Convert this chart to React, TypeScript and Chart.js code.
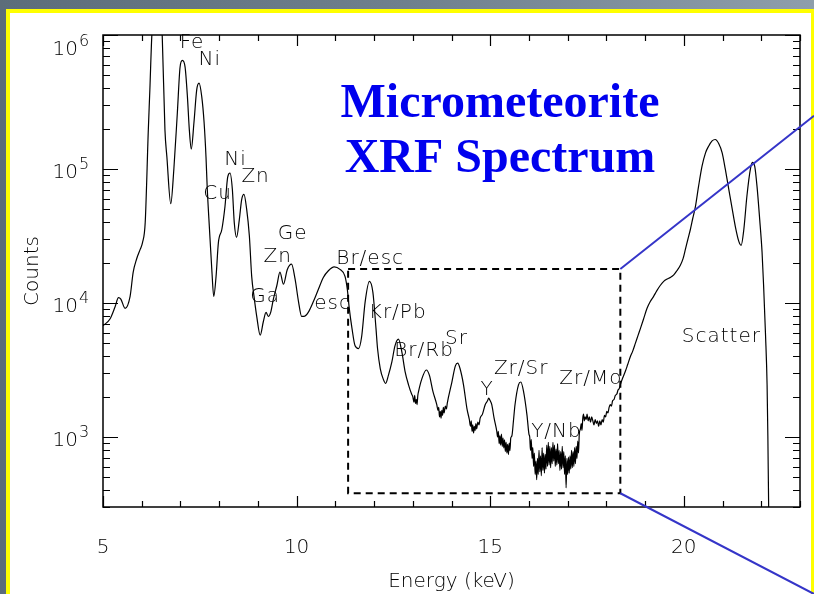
import React, { useEffect, useRef } from "react";
import { Chart, registerables } from "chart.js";

Chart.register(...registerables);

// ---------- data ----------
const energyKeV = [
  5.0, 5.18, 5.31, 5.4, 5.46, 5.57, 5.7, 5.78, 5.87, 5.96,
  6.02, 6.09, 6.17, 6.21, 6.26, 6.33, 6.4, 6.47, 6.53, 6.6,
  6.65, 6.75, 6.83, 6.92, 6.99, 7.05, 7.12, 7.18, 7.23, 7.28,
  7.35, 7.42, 7.48, 7.55, 7.61, 7.66, 7.69, 7.75, 7.81, 7.86,
  7.92, 7.98, 8.07, 8.15, 8.22, 8.28, 8.34, 8.39, 8.45, 8.52,
  8.58, 8.64, 8.71, 8.78, 8.84, 8.9, 8.97, 9.06, 9.14, 9.21,
  9.27, 9.33, 9.4, 9.49, 9.57, 9.66, 9.76, 9.87, 9.96, 10.05,
  10.13, 10.19, 10.3, 10.43, 10.56, 10.69, 10.82, 10.97, 11.12, 11.25,
  11.31, 11.36, 11.43, 11.51, 11.6, 11.68, 11.77, 11.88, 11.97, 12.05,
  12.09, 12.16, 12.24, 12.3, 12.37, 12.46, 12.54, 12.63, 12.72, 12.8,
  12.89, 12.97,
  13.0, 13.03, 13.05, 13.07, 13.09, 13.11, 13.13, 13.15, 13.23, 13.35, 13.43, 13.52, 13.62,
  13.65, 13.67, 13.69, 13.71, 13.73, 13.75, 13.77, 13.79, 13.81, 13.84, 13.87, 13.89,
  14.01, 14.1, 14.16, 14.22, 14.31, 14.4,
  14.46, 14.49, 14.51, 14.53, 14.55, 14.57, 14.59, 14.61, 14.63, 14.65, 14.68, 14.71, 14.74,
  14.8, 14.87, 14.93, 14.96, 15.0, 15.04, 15.1, 15.17,
  15.19, 15.21, 15.23, 15.25, 15.27, 15.29, 15.31, 15.33, 15.35, 15.37, 15.39, 15.41, 15.43, 15.45, 15.47, 15.49, 15.51, 15.53,
  15.56, 15.6, 15.64, 15.73, 15.79, 15.86, 15.95, 16.0,
  16.02, 16.04, 16.06, 16.08, 16.1, 16.12, 16.14, 16.16, 16.18, 16.2,
  16.22, 16.24, 16.26, 16.28, 16.3, 16.32, 16.34, 16.36, 16.38, 16.4,
  16.42, 16.44, 16.46, 16.48, 16.5, 16.52, 16.54, 16.56, 16.58, 16.6,
  16.62, 16.64, 16.66, 16.68, 16.7, 16.72, 16.74, 16.76, 16.78, 16.8,
  16.82, 16.84, 16.86, 16.88, 16.9, 16.92, 16.94, 16.96, 16.98, 17.0,
  17.02, 17.04, 17.06, 17.08, 17.1, 17.12, 17.14, 17.16, 17.18, 17.2,
  17.22, 17.24, 17.26, 17.28, 17.3,
  17.33, 17.35, 17.37, 17.39, 17.41, 17.43, 17.45, 17.48, 17.5, 17.53,
  17.56, 17.59, 17.62, 17.65, 17.68, 17.71, 17.74, 17.77, 17.8, 17.83,
  17.86, 17.89, 17.92, 17.95, 17.98, 18.01, 18.04, 18.07, 18.1, 18.13,
  18.16, 18.2, 18.23, 18.27, 18.3, 18.33, 18.36,
  18.42, 18.49, 18.55, 18.62, 18.68, 18.75, 18.82, 18.88, 18.96, 19.05,
  19.13, 19.22, 19.3, 19.39, 19.48, 19.57, 19.65, 19.74, 19.82, 19.91,
  19.98, 20.04, 20.1, 20.17, 20.23, 20.3, 20.38, 20.47, 20.56, 20.64,
  20.73, 20.81, 20.9, 20.99, 21.07, 21.16, 21.25, 21.33, 21.42, 21.48,
  21.55, 21.63, 21.72, 21.77, 21.83, 21.89, 21.96, 22.02, 22.06, 22.11,
  22.15, 22.17, 22.19, 22.22,
];

const counts = [
  6760, 7590, 9330, 10960, 10700, 9120, 11220, 16980, 21380, 25120,
  28180, 39810, 195000, 389000, 977000, 1780000, 2240000, 1780000, 977000, 195000,
  123000, 55000, 100000, 263000, 575000, 646000, 575000, 347000, 195000, 141000,
  224000, 389000, 437000, 347000, 224000, 123000, 74100, 35500, 17800, 11200,
  15800, 28200, 35500, 52500, 87100, 93300, 70800, 39800, 30900, 41700,
  58900, 64600, 50100, 31600, 15800, 11200, 7940, 5750, 7240, 8510,
  7940, 8510, 10700, 13500, 17000, 13800, 17800, 19500, 15100, 10200,
  7940, 7940, 8510, 10200, 12600, 15500, 17400, 18600, 17800, 15800,
  12600, 9120, 6460, 4790, 4570, 5620, 10200, 14500, 12000, 6460,
  4570, 3240, 2690, 2510, 2880, 3630, 4790, 5370, 4270, 3090,
  2450, 2090,
  2000, 1820, 2040, 1780, 1910, 1740, 2040, 2190, 2690, 3160, 2880, 2190, 1740,
  1580, 1660, 1410, 1550, 1380, 1580, 1450, 1660, 1510, 1700, 1620, 1780,
  2570, 3390, 3550, 3240, 2450, 1620,
  1350, 1200, 1320, 1100, 1230, 1070, 1200, 1120, 1260, 1150, 1290, 1230, 1380,
  1480, 1740, 1860, 1950, 1860, 1740, 1380, 1100,
  1000, 1100, 890, 1020, 870, 1050, 850, 980, 830, 950, 780, 910, 760, 880, 740, 900, 790, 980,
  1020, 1320, 1740, 2450, 2570, 2190, 1450, 1050,
  1000, 794, 955, 692, 832, 603, 759, 525, 661, 479,
  692, 525, 794, 550, 724, 513, 832, 562, 759, 537,
  741, 575, 871, 603, 912, 617, 851, 589, 832, 631,
  912, 661, 871, 603, 813, 617, 891, 631, 794, 562,
  776, 575, 851, 589, 776, 525, 724, 417, 692, 525,
  708, 537, 724, 575, 794, 589, 776, 603, 832, 631,
  851, 692, 933, 759, 1050,
  1150, 1260, 1120, 1380, 1480, 1320, 1410, 1350, 1480, 1320,
  1410, 1290, 1410, 1320, 1230, 1350, 1260, 1320, 1200, 1320,
  1230, 1350, 1290, 1450, 1410, 1550, 1510, 1660, 1740, 1700,
  1860, 1910, 2040, 2090, 2240, 2290, 2450,
  2750, 3090, 3470, 3980, 4370, 5010, 5750, 6460, 7590, 9120,
  10200, 11200, 12300, 13500, 14500, 15100, 15500, 16200, 17400, 19100,
  21400, 25100, 29500, 35500, 42700, 52500, 74100, 105000, 132000, 148000,
  162000, 166000, 155000, 132000, 100000, 70800, 50100, 37200, 28800, 26900,
  35500, 63100, 100000, 112000, 105000, 74100, 41700, 24000, 13500, 5750,
  2450, 1020, 309, 100,
];

const peakLabels = ["Fe", "Ni", "Ni", "Zn", "Cu", "Ga", "Zn", "Ge", "esc", "Br/esc", "Kr/Pb", "Br/Rb", "Sr", "Y", "Zr/Sr", "Zr/Mo", "Y/Nb", "Scatter"];
const peakLabelEnergy = [7.3, 7.76, 8.42, 8.94, 7.96, 9.19, 9.51, 9.9, 10.93, 11.9, 12.61, 13.29, 14.13, 14.92, 15.8, 17.6, 16.71, 20.97];
const peakLabelCounts = [800000, 598000, 108000, 79400, 59300, 10200, 20200, 29900, 9020, 19500, 7730, 4040, 4950, 2040, 2960, 2500, 991, 5130];

const xMin = 5;
const xMax = 23;
const yMin = 300;
const yMax = 1000000;
const xMajorTicks = [5, 10, 15, 20];
const yDecadeExponents = [3, 4, 5, 6];

const zoomBoxEnergy = [11.33, 18.36];
const zoomBoxCounts = [380, 17900];

const titleLines = ["Micrometeorite", "XRF Spectrum"];
const xAxisTitle = "Energy (keV)";
const yAxisTitle = "Counts";

// ---------- component ----------
const W = 814;
const H = 594;

export default function App() {
  const canvasRef = useRef<HTMLCanvasElement | null>(null);

  useEffect(() => {
    const canvas = canvasRef.current;
    if (!canvas) return;

    const decorPlugin = {
      id: "decor",
      afterDraw(chart: any) {
        const ctx = chart.ctx as CanvasRenderingContext2D;
        const xs = chart.scales.x;
        const ys = chart.scales.y;
        const { left, right, top, bottom } = chart.chartArea;
        const labelFont = "200 20px 'DejaVu Sans'";
        ctx.save();

        // frame
        ctx.strokeStyle = "#000";
        ctx.lineWidth = 1.5;
        ctx.strokeRect(left, top, right - left, bottom - top);

        // x ticks (inward, top and bottom)
        ctx.lineWidth = 1.2;
        for (let e = xMin; e <= xMax; e++) {
          const px = Math.round(xs.getPixelForValue(e)) + 0.5;
          const len = xMajorTicks.includes(e) ? 11 : 6;
          ctx.beginPath();
          ctx.moveTo(px, bottom);
          ctx.lineTo(px, bottom - len);
          ctx.moveTo(px, top);
          ctx.lineTo(px, top + len);
          ctx.stroke();
        }
        // y ticks (log minor)
        for (let d = 2; d <= 6; d++) {
          for (let m = 1; m <= 9; m++) {
            const v = m * Math.pow(10, d);
            if (v < yMin || v > yMax) continue;
            const py = Math.round(ys.getPixelForValue(v)) + 0.5;
            const len = m === 1 ? 15 : 7;
            ctx.beginPath();
            ctx.moveTo(left, py);
            ctx.lineTo(left + len, py);
            ctx.moveTo(right, py);
            ctx.lineTo(right - len, py);
            ctx.stroke();
          }
        }

        // tick labels
        ctx.fillStyle = "#000";
        ctx.textAlign = "center";
        ctx.textBaseline = "alphabetic";
        ctx.font = labelFont;
        for (const e of xMajorTicks) {
          ctx.fillText(String(e), xs.getPixelForValue(e), bottom + 46);
        }
        for (const ex of yDecadeExponents) {
          const py = ys.getPixelForValue(Math.pow(10, ex));
          const base = Math.max(py + 9, top + 20);
          ctx.font = labelFont;
          ctx.textAlign = "right";
          ctx.fillText("10", left - 25, base);
          ctx.font = "200 16px 'DejaVu Sans'";
          ctx.textAlign = "left";
          ctx.fillText(String(ex), left - 24, base - 9);
        }

        // axis titles
        ctx.font = labelFont;
        ctx.textAlign = "center";
        ctx.fillText(xAxisTitle, (left + right) / 2, bottom + 80);
        ctx.save();
        ctx.translate(38, (top + bottom) / 2);
        ctx.rotate(-Math.PI / 2);
        ctx.fillText(yAxisTitle, 0, 0);
        ctx.restore();

        // peak labels
        ctx.font = labelFont;
        (ctx as any).letterSpacing = "1px";
        ctx.textAlign = "center";
        for (let i = 0; i < peakLabels.length; i++) {
          ctx.fillText(peakLabels[i], xs.getPixelForValue(peakLabelEnergy[i]), ys.getPixelForValue(peakLabelCounts[i]));
        }
        (ctx as any).letterSpacing = "0px";

        // dashed zoom box
        const bx0 = xs.getPixelForValue(zoomBoxEnergy[0]);
        const bx1 = xs.getPixelForValue(zoomBoxEnergy[1]);
        const by0 = ys.getPixelForValue(zoomBoxCounts[1]);
        const by1 = ys.getPixelForValue(zoomBoxCounts[0]);
        ctx.setLineDash([7, 5]);
        ctx.lineWidth = 2;
        ctx.strokeStyle = "#000";
        ctx.strokeRect(bx0, by0, bx1 - bx0, by1 - by0);
        ctx.setLineDash([]);

        // callout lines
        ctx.strokeStyle = "#3535c8";
        ctx.lineWidth = 2;
        ctx.beginPath();
        ctx.moveTo(bx1, by0);
        ctx.lineTo(W, H * 0.195);
        ctx.moveTo(bx1, by1);
        ctx.lineTo(W, H);
        ctx.stroke();

        // title
        ctx.fillStyle = "#0000ee";
        ctx.font = "bold 48px 'Liberation Serif'";
        ctx.textAlign = "center";
        ctx.fillText(titleLines[0], 500, 117);
        ctx.fillText(titleLines[1], 500, 172);

        ctx.restore();
      },
    };

    const chart = new Chart(canvas, {
      type: "line",
      data: {
        datasets: [
          {
            data: energyKeV.map((e, i) => ({ x: e, y: counts[i] })),
            borderColor: "#000",
            borderWidth: 1.2,
            pointRadius: 0,
            cubicInterpolationMode: "monotone",
            fill: false,
          },
        ],
      },
      options: {
        responsive: false,
        animation: false,
        devicePixelRatio: 1,
        layout: { padding: { left: 103, right: 14, top: 35, bottom: 87 } },
        plugins: { legend: { display: false }, tooltip: { enabled: false }, title: { display: false } },
        scales: {
          x: { type: "linear", min: xMin, max: xMax, display: false },
          y: { type: "logarithmic", min: yMin, max: yMax, display: false },
        },
      },
      plugins: [decorPlugin],
    } as any);

    return () => chart.destroy();
  }, []);

  return (
    <div
      style={{
        position: "fixed",
        left: 0,
        top: 0,
        width: W,
        height: H,
        overflow: "hidden",
        background: "linear-gradient(to right, #5c6d7a, #6f808d 50%, #8e9eab)",
      }}
    >
      <div
        style={{
          position: "absolute",
          left: 6,
          top: 9,
          width: 809,
          height: 620,
          boxSizing: "border-box",
          border: "4px solid #ffff00",
          background: "#ffffff",
        }}
      />
      <canvas ref={canvasRef} width={W} height={H} style={{ position: "absolute", left: 0, top: 0, width: W, height: H }} />
    </div>
  );
}
